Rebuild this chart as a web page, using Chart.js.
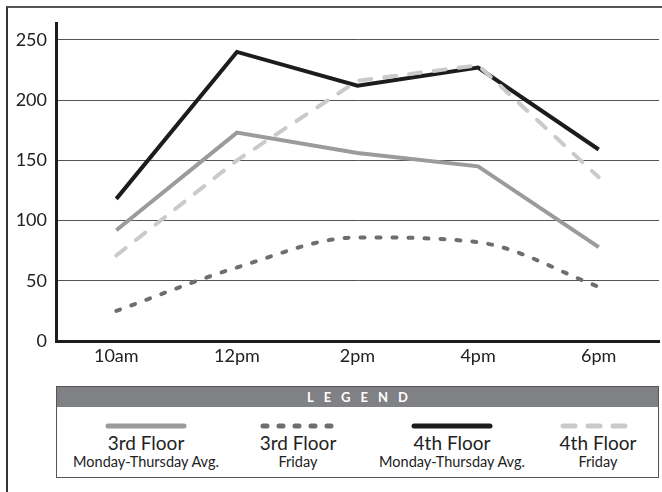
<!DOCTYPE html>
<html>
<head>
<meta charset="utf-8">
<script src="https://cdn.jsdelivr.net/npm/chart.js@4"></script>
<style>
  body { margin: 0; width: 662px; height: 492px; background: #fff; font-family: Lato, "Open Sans", sans-serif; overflow: hidden; position: relative; }
  #frame { position: absolute; left: 6px; top: 6px; right: -10px; bottom: -10px; border-top: 2px solid #555; border-left: 2px solid #333; }
  #wrap { position: absolute; left: 0; top: 0; width: 662px; height: 370px; }
  #legend { position: absolute; left: 56px; top: 386px; width: 601px; height: 90px; border: 1px solid #555; background: #fff; }
  #legend .head { height: 20px; background: #808184; color: #fff; font-weight: bold; font-size: 13px; line-height: 20px; text-align: center; letter-spacing: 10px; padding-left: 10px; }
  .item { position: absolute; top: 35px; width: 180px; margin-left: -90px; text-align: center; color: #222; }
  .item svg { display: block; margin: 0 auto; }
  .item .t { font-size: 19px; line-height: 20px; margin-top: 3px; }
  .item .s { font-size: 14.5px; line-height: 17px; }
</style>
</head>
<body>
<div id="frame"></div>
<div id="wrap"><canvas id="grafico"></canvas></div>
<div id="legend"><div class="head">LEGEND</div></div>
<script>
const horarios = ["10am", "12pm", "2pm", "4pm", "6pm"];
const terceiroSemana = [92, 173, 156, 145, 78];
const terceiroSexta = [25, 61, 86, 82, 45];
const quartoSemana = [118, 240, 212, 227, 159];
const quartoSexta = [71, 150, 216, 229, 136];
const ticksY = [0, 50, 100, 150, 200, 250];

const series = [
  { titulo: "3rd Floor", sub: "Monday-Thursday Avg.", data: terceiroSemana, cor: "#9b9b9b", dash: [], curva: false, ordem: 3, x: 89 },
  { titulo: "3rd Floor", sub: "Friday", data: terceiroSexta, cor: "#6d6e71", dash: [4, 12], curva: true, ordem: 2, x: 241 },
  { titulo: "4th Floor", sub: "Monday-Thursday Avg.", data: quartoSemana, cor: "#1c1c1c", dash: [], curva: false, ordem: 1, x: 395 },
  { titulo: "4th Floor", sub: "Friday", data: quartoSexta, cor: "#cacaca", dash: [12, 13], curva: false, ordem: 0, x: 541 }
];

const legend = document.getElementById("legend");
series.forEach(s => {
  const div = document.createElement("div");
  div.className = "item";
  div.style.left = s.x + "px";
  const w = s.dash.length ? 74 : 80;
  div.innerHTML = `
    <svg width="84" height="8"><line x1="${42 - w / 2 + 2}" y1="4" x2="${42 + w / 2 - 2}" y2="4" stroke="${s.cor}" stroke-width="5" stroke-linecap="round" stroke-dasharray="${s.dash.join(' ')}"/></svg>
    <div class="t">${s.titulo}</div>
    <div class="s">${s.sub}</div>
  `;
  legend.appendChild(div);
});

new Chart(document.getElementById("grafico"), {
  type: "line",
  data: {
    labels: horarios,
    datasets: series.map(s => ({
      label: s.titulo + " " + s.sub,
      data: s.data,
      borderColor: s.cor,
      borderWidth: 4,
      borderDash: s.dash,
      borderCapStyle: s.dash.length ? "round" : "butt",
      borderJoinStyle: "miter",
      tension: s.curva ? 0.4 : 0,
      cubicInterpolationMode: s.curva ? "monotone" : "default",
      pointRadius: 0,
      fill: false,
      order: s.ordem
    }))
  },
  options: {
    responsive: true,
    maintainAspectRatio: false,
    animation: false,
    layout: { padding: { left: 6, top: 23, right: 3, bottom: 0 } },
    plugins: { legend: { display: false }, tooltip: { enabled: false } },
    scales: {
      x: {
        offset: true,
        grid: { drawOnChartArea: false, drawTicks: false },
        border: { display: true, color: "#1c1c1c", width: 3 },
        ticks: { color: "#222", font: { family: "Lato", size: 18 }, padding: 4 },
        afterFit: scale => { scale.height = 29; }
      },
      y: {
        min: 0,
        max: 264,
        grid: { color: "#555", lineWidth: 1, drawTicks: false },
        border: { display: true, color: "#1c1c1c", width: 3 },
        afterBuildTicks: scale => { scale.ticks = ticksY.map(v => ({ value: v })); },
        ticks: { color: "#222", font: { family: "Lato", size: 18 }, padding: 9 },
        afterFit: scale => { scale.width = 50; }
      }
    }
  }
});
</script>
</body>
</html>
